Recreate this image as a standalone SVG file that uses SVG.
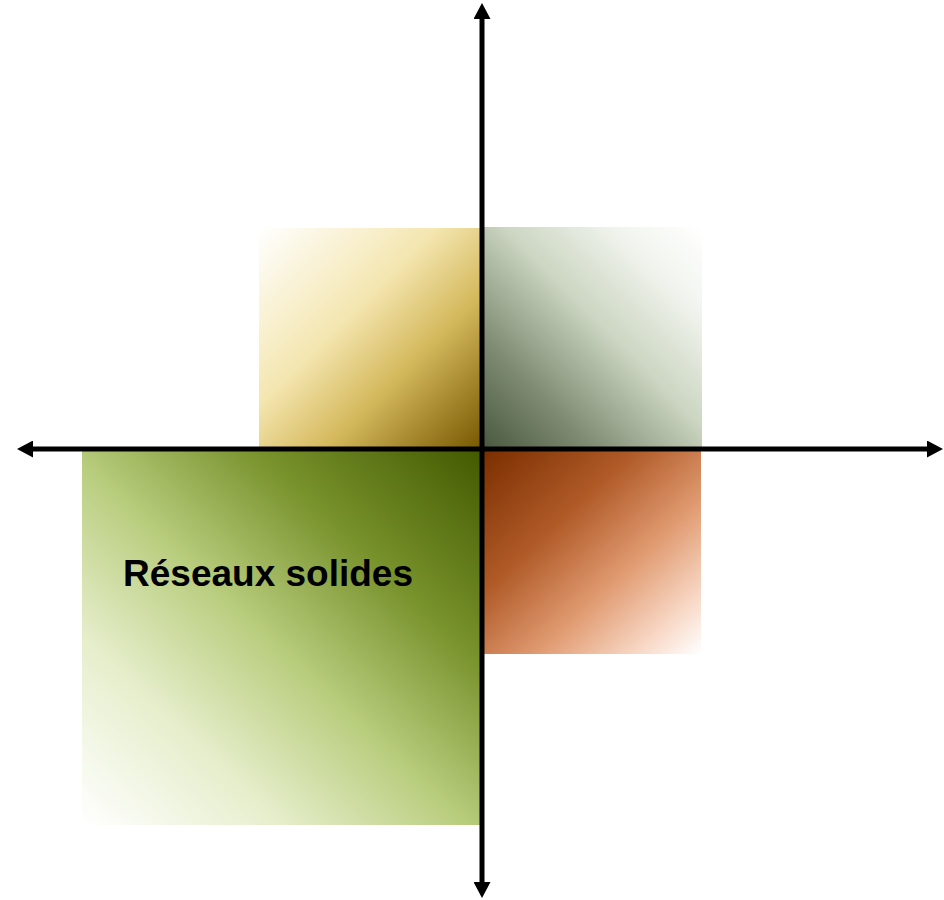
<svg xmlns="http://www.w3.org/2000/svg" width="944" height="900" viewBox="0 0 944 900">
  <style>
    .axis { stroke: #000; stroke-width: 5; fill: none; }
    .label { font-family: "Liberation Sans", Arial, sans-serif; font-weight: bold; font-size: 37px; fill: #000; }
  </style>
  <defs>
    <linearGradient id="gGold" x1="0" y1="0" x2="1" y2="1">
      <stop offset="0" stop-color="#ffffff"/>
      <stop offset="0.4" stop-color="#f4e6b0"/>
      <stop offset="0.65" stop-color="#d4b85c"/>
      <stop offset="1" stop-color="#765800"/>
    </linearGradient>
    <linearGradient id="gGrey" x1="0" y1="1" x2="1" y2="0">
      <stop offset="0" stop-color="#4a5840"/>
      <stop offset="0.25" stop-color="#7f8c73"/>
      <stop offset="0.55" stop-color="#ccd6c2"/>
      <stop offset="0.8" stop-color="#f1f4ee"/>
      <stop offset="1" stop-color="#ffffff"/>
    </linearGradient>
    <linearGradient id="gOrange" x1="0" y1="0" x2="1" y2="1">
      <stop offset="0" stop-color="#7a2e00"/>
      <stop offset="0.35" stop-color="#b05a28"/>
      <stop offset="0.62" stop-color="#e09a70"/>
      <stop offset="0.85" stop-color="#f8d8c6"/>
      <stop offset="1" stop-color="#ffffff"/>
    </linearGradient>
    <linearGradient id="gGreen" x1="1" y1="0" x2="0" y2="1">
      <stop offset="0" stop-color="#435a00"/>
      <stop offset="0.28" stop-color="#78922c"/>
      <stop offset="0.52" stop-color="#b9cd7e"/>
      <stop offset="0.75" stop-color="#e6eecc"/>
      <stop offset="1" stop-color="#ffffff"/>
    </linearGradient>
    <marker id="arrow" markerUnits="userSpaceOnUse" markerWidth="16" markerHeight="17" refX="0" refY="8.5" orient="auto">
      <path d="M0,0 L16,8.5 L0,17 z" fill="#000"/>
    </marker>
  </defs>

  <g id="quadrant-gold">
    <rect x="259" y="228" width="222" height="220" fill="url(#gGold)"/>
  </g>
  <g id="quadrant-grey">
    <rect x="483" y="227" width="219" height="221" fill="url(#gGrey)"/>
  </g>
  <g id="quadrant-orange">
    <rect x="483" y="450" width="218" height="204" fill="url(#gOrange)"/>
  </g>
  <g id="quadrant-green">
    <rect x="82" y="450" width="398" height="375" fill="url(#gGreen)"/>
    <text class="label" x="123" y="586">Réseaux solides</text>
  </g>

  <g id="connectors">
    <line class="axis" x1="482" y1="449" x2="482" y2="19" marker-end="url(#arrow)"/>
    <line class="axis" x1="482" y1="449" x2="482" y2="882" marker-end="url(#arrow)"/>
    <line class="axis" x1="482" y1="449" x2="33" y2="449" marker-end="url(#arrow)"/>
    <line class="axis" x1="482" y1="449" x2="927" y2="449" marker-end="url(#arrow)"/>
  </g>
</svg>
